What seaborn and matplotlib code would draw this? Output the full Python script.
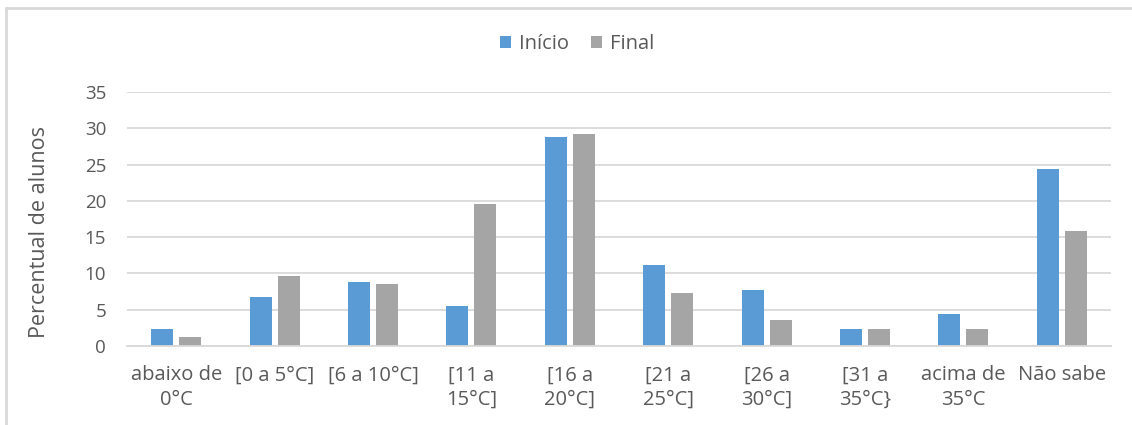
import matplotlib
matplotlib.use("Agg")
import matplotlib.pyplot as plt
from matplotlib.lines import Line2D
import seaborn as sns
import pandas as pd

# Faixas de temperatura e rótulos exibidos no eixo x
categorias = ["abaixo de 0°C", "[0 a 5°C]", "[6 a 10°C]", "[11 a 15°C]", "[16 a 20°C]",
              "[21 a 25°C]", "[26 a 30°C]", "[31 a 35°C}", "acima de 35°C", "Não sabe"]
rotulos_x = ["abaixo de\n0°C", "[0 a 5°C]", "[6 a 10°C]", "[11 a\n15°C]", "[16 a\n20°C]",
             "[21 a\n25°C]", "[26 a\n30°C]", "[31 a\n35°C}", "acima de\n35°C", "Não sabe"]

# Percentual de alunos em cada momento
inicio = [2.3, 6.7, 8.8, 5.5, 28.8, 11.1, 7.7, 2.3, 4.4, 24.4]
final = [1.3, 9.6, 8.5, 19.5, 29.2, 7.3, 3.6, 2.4, 2.4, 15.9]
series = ["Início", "Final"]
cores = ["#5B9BD5", "#A5A5A5"]

yticks = [0, 5, 10, 15, 20, 25, 30, 35]

df = pd.DataFrame({
    "categoria": categorias * 2,
    "valor": inicio + final,
    "momento": [series[0]] * len(categorias) + [series[1]] * len(categorias),
})

sns.set_theme(style="white")
plt.rcParams["font.family"] = ["Open Sans", "DejaVu Sans"]
texto = "#595959"
grade = "#D9D9D9"

fig = plt.figure(figsize=(11.32, 4.25), dpi=100)
ax = fig.add_axes([127 / 1132, 79 / 425, (1111 - 127) / 1132, 254 / 425])

sns.barplot(data=df, x="categoria", y="valor", hue="momento", order=categorias,
            hue_order=series, palette=cores, width=0.571, gap=0.214,
            saturation=1, linewidth=0, ax=ax, legend=True)

ax.set_xlim(-0.5, len(categorias) - 0.5)
ax.set_ylim(0, 35)
ax.set_yticks(yticks)
ax.set_yticklabels([str(v) for v in yticks])
ax.set_xticks(range(len(categorias)))
ax.set_xticklabels(rotulos_x, linespacing=1.3)
ax.set_xlabel("")
ax.set_ylabel("")
ax.tick_params(axis="y", length=0, pad=15, labelsize=13.5, labelcolor=texto)
ax.tick_params(axis="x", length=0, pad=14, labelsize=14.5, labelcolor=texto)

ax.grid(axis="y", color=grade, linewidth=1.3)
ax.set_axisbelow(True)
for side in ["top", "right", "left"]:
    ax.spines[side].set_visible(False)
ax.spines["bottom"].set_color(grade)
ax.spines["bottom"].set_linewidth(1.3)

handles, labels = ax.get_legend_handles_labels()
ax.get_legend().remove()
fig.legend(handles, labels, loc="center", bbox_to_anchor=(577 / 1132, 1 - 44 / 425),
           ncol=2, frameon=False, fontsize=14.5, labelcolor=texto,
           handlelength=0.55, handleheight=0.55, handletextpad=0.4, columnspacing=1.1)

fig.text(40 / 1132, 1 - 232 / 425, "Percentual de alunos", rotation=90,
         ha="center", va="center", fontsize=15.5, color=texto)

# Moldura da área do gráfico (bordas superior e esquerda)
fig.add_artist(Line2D([6 / 1132, 1], [1 - 8 / 425, 1 - 8 / 425], transform=fig.transFigure,
                      color=grade, linewidth=2))
fig.add_artist(Line2D([6 / 1132, 6 / 1132], [0, 1 - 8 / 425], transform=fig.transFigure,
                      color=grade, linewidth=2))

fig.savefig("out.png", dpi=100, facecolor="white")
